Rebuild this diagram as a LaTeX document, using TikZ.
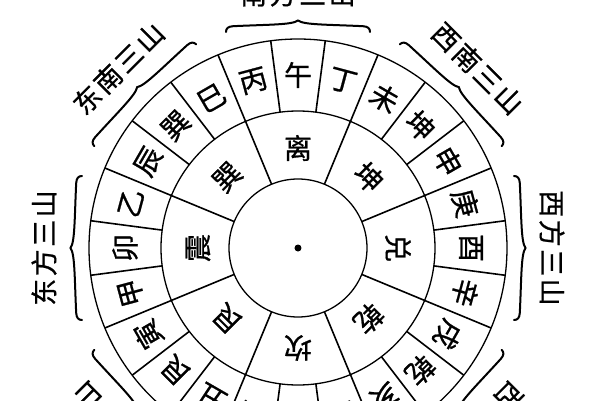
\documentclass[tikz,border=0pt]{standalone}
\usepackage{fontspec}
\newfontfamily\cjk[FakeBold=0.8]{Noto Sans CJK SC}
\tikzset{
  ring/.style={line width=1.3pt},
  spoke/.style={line width=1.6pt},
  mtn/.style={font=\cjk\fontsize{28}{28}\selectfont, inner sep=0pt},
  gua/.style={font=\cjk\fontsize{28}{28}\selectfont, inner sep=0pt},
  lbl/.style={font=\cjk\fontsize{27}{27}\selectfont, inner sep=0pt},
  brace/.style={line width=2pt, line cap=round}
}
\begin{document}
\begin{tikzpicture}[x=1pt,y=1pt]
\fill[white] (-298,-152) rectangle (302,248);
\useasboundingbox (-298,-152) rectangle (302,248);
% rings
\draw[ring] (0,0) circle[radius=69pt];
\draw[ring] (0,0) circle[radius=137pt];
\draw[ring] (0,0) circle[radius=209pt];
\fill (0,0) circle[radius=3.5pt];
% spokes of the 24 mountains
\foreach \k in {0,...,23}{
  \draw[spoke] ({7.5+15*\k}:137pt) -- ({7.5+15*\k}:209pt);
}
% spokes of the 8 trigrams
\foreach \k in {0,...,7}{
  \draw[spoke] ({22.5+45*\k}:69pt) -- ({22.5+45*\k}:137pt);
}
% 24 mountains
\foreach \a/\t [count=\i] in {90/午,105/丙,120/巳,135/巽,150/辰,165/乙,180/卯,195/甲,210/寅,225/艮,240/丑,255/癸,270/子,285/壬,300/亥,315/乾,330/戌,345/辛,0/酉,15/庚,30/申,45/坤,60/未,75/丁}{
  \node[mtn, rotate=\a-90] (m\i) at (\a:173pt) {\t};
}
% 8 trigrams
\foreach \a/\t [count=\i] in {90/离,135/巽,180/震,225/艮,270/坎,315/乾,0/兑,45/坤}{
  \node[gua, rotate=\a-90] (t\i) at (\a:100pt) {\t};
}
% braces and labels
\foreach \a/\p/\q/\r/\s [count=\i] in {90/南/方/三/山,135/东/南/三/山,180/东/方/三/山,225/东/北/三/山,270/北/方/三/山,315/西/北/三/山,0/西/方/三/山,45/西/南/三/山}{
  \begin{scope}[rotate=\a-90]
    \draw[brace] (-72,216) .. controls (-72,219.5) and (-70,221.5) .. (-65,221.8)
      .. controls (-30,223.5) and (-6,223) .. (0,227.5)
      .. controls (6,223) and (30,223.5) .. (65,221.8)
      .. controls (70,221.5) and (72,219.5) .. (72,216);
  \end{scope}
  \node[lbl, rotate=\a-90] (l\i) at (\a:254pt) {\p\hspace{2.5pt}\q\hspace{2.5pt}\r\hspace{2.5pt}\s};
}
\end{tikzpicture}
\end{document}
